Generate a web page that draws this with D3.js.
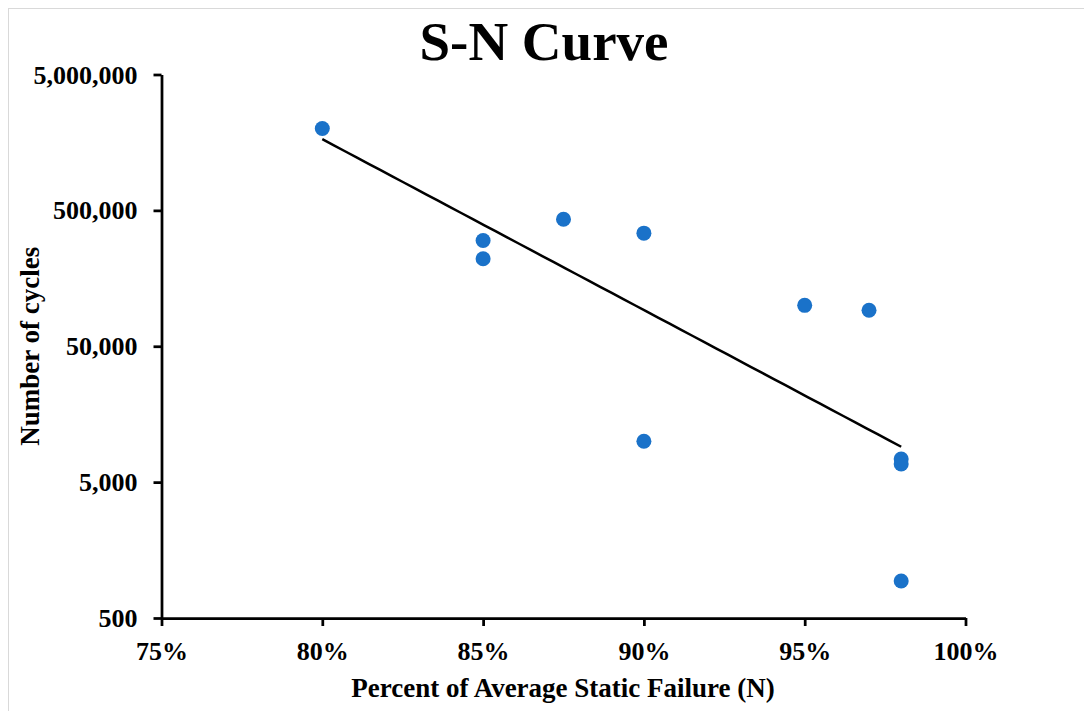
<!DOCTYPE html>
<html>
<head>
<meta charset="utf-8">
<script src="https://cdn.jsdelivr.net/npm/d3@7"></script>
<style>
  html, body { margin: 0; padding: 0; background: #fff; }
  svg { display: block; }
  text { font-family: "Liberation Serif", "Times New Roman", serif; font-weight: bold; fill: #000; }
</style>
</head>
<body>
<svg id="chart" width="1084" height="711"></svg>
<script>
// Fatigue test results: load level (fraction of average static failure) vs cycles to failure
const loadLevels = [0.80, 0.85, 0.85, 0.875, 0.90, 0.90, 0.95, 0.97, 0.98, 0.98, 0.98];
const cyclesToFailure = [2000000, 300000, 220000, 430000, 340000, 10000, 100000, 92000, 7400, 6800, 935];

const xTicks = [0.75, 0.80, 0.85, 0.90, 0.95, 1.00];
const yTicks = [500, 5000, 50000, 500000, 5000000];

const titleText = "S-N Curve";
const xTitle = "Percent of Average Static Failure (N)";
const yTitle = "Number of cycles";

const svg = d3.select("#chart");
const W = 1084, H = 711;
const plot = { left: 161.5, right: 965.5, top: 74.5, bottom: 618 };

// chart area frame
svg.append("rect")
  .attr("x", 8.5).attr("y", 8.5)
  .attr("width", W + 20).attr("height", H + 20)
  .attr("fill", "#fff").attr("stroke", "#d9d9d9").attr("stroke-width", 1);

const x = d3.scaleLinear().domain([0.75, 1.00]).range([plot.left, plot.right]);
const y = d3.scaleLog().domain([500, 5000000]).range([plot.bottom, plot.top]);

// exponential trendline: least squares on ln(cycles)
const n = loadLevels.length;
const lnY = cyclesToFailure.map(v => Math.log(v));
const mx = d3.mean(loadLevels), my = d3.mean(lnY);
let sxy = 0, sxx = 0;
for (let i = 0; i < n; i++) {
  sxy += (loadLevels[i] - mx) * (lnY[i] - my);
  sxx += (loadLevels[i] - mx) ** 2;
}
const b = sxy / sxx, a = my - b * mx;
const [xMin, xMax] = d3.extent(loadLevels);
const trend = d3.range(0, 51).map(i => {
  const xv = xMin + (xMax - xMin) * i / 50;
  return [xv, Math.exp(a + b * xv)];
});

// axes
const xAxis = d3.axisBottom(x).tickValues(xTicks).tickSize(8).tickSizeOuter(0)
  .tickFormat(d3.format(".0%"));
const yAxis = d3.axisLeft(y).tickValues(yTicks).tickSize(8).tickSizeOuter(0)
  .tickFormat(d3.format(","));

const gx = svg.append("g").attr("transform", `translate(0,${plot.bottom})`).call(xAxis);
const gy = svg.append("g").attr("transform", `translate(${plot.left},0)`).call(yAxis);

[gx, gy].forEach(g => {
  g.selectAll(".domain").attr("stroke", "#000").attr("stroke-width", 2.75);
  g.selectAll(".tick line").attr("stroke", "#000").attr("stroke-width", 2.75);
  g.selectAll(".tick text").attr("font-size", 26).attr("font-family", "Liberation Serif").attr("font-weight", "bold").attr("fill", "#000");
});
gx.selectAll(".tick text").attr("dy", null).attr("y", 42);
gy.selectAll(".tick text").attr("x", -24).attr("dy", "0.33em");

// trendline
svg.append("path")
  .datum(trend)
  .attr("fill", "none")
  .attr("stroke", "#000")
  .attr("stroke-width", 2.5)
  .attr("d", d3.line().x(d => x(d[0])).y(d => y(d[1])));

// data points
svg.append("g").selectAll("circle")
  .data(loadLevels.map((v, i) => [v, cyclesToFailure[i]]))
  .join("circle")
  .attr("cx", d => x(d[0]))
  .attr("cy", d => y(d[1]))
  .attr("r", 7.5)
  .attr("fill", "#1a72c9");

// titles
svg.append("text")
  .attr("x", 544).attr("y", 60)
  .attr("text-anchor", "middle")
  .attr("font-size", 55)
  .text(titleText);

svg.append("text")
  .attr("x", 563).attr("y", 697)
  .attr("text-anchor", "middle")
  .attr("font-size", 27)
  .text(xTitle);

svg.append("text")
  .attr("transform", `translate(39,${(plot.top + plot.bottom) / 2}) rotate(-90)`)
  .attr("text-anchor", "middle")
  .attr("font-size", 27)
  .text(yTitle);
</script>
</body>
</html>
